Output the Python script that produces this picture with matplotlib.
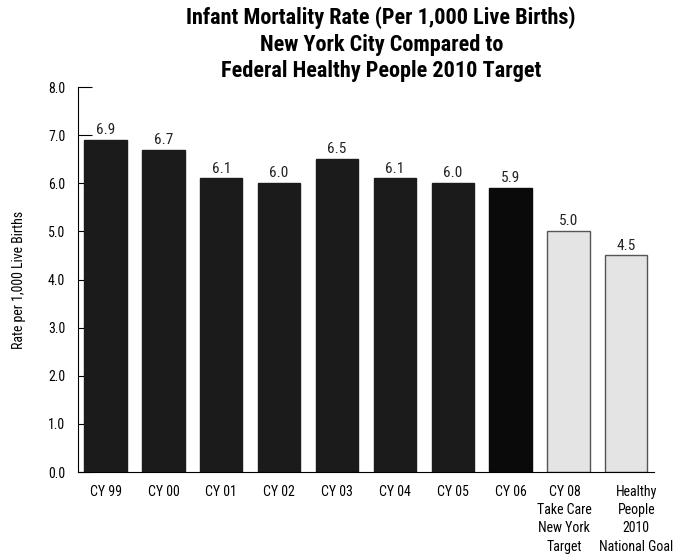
import matplotlib
matplotlib.use("Agg")
import matplotlib.pyplot as plt
import matplotlib.transforms as mtransforms
from matplotlib import font_manager

# Data
categories = ["CY 99", "CY 00", "CY 01", "CY 02", "CY 03", "CY 04", "CY 05", "CY 06",
              "CY 08\nTake Care\nNew York\nTarget", "Healthy\nPeople\n2010\nNational Goal"]
rates = [6.9, 6.7, 6.1, 6.0, 6.5, 6.1, 6.0, 5.9, 5.0, 4.5]
value_labels = ["6.9", "6.7", "6.1", "6.0", "6.5", "6.1", "6.0", "5.9", "5.0", "4.5"]
y_ticks = [0, 1, 2, 3, 4, 5, 6, 7, 8]

# pick a narrow sans, the reference uses an Arial Narrow look
names = {f.name for f in font_manager.fontManager.ttflist}
narrow = [n for n in ["Liberation Sans Narrow", "Roboto Condensed", "Archivo Narrow",
                      "Barlow Semi Condensed"] if n in names]
plt.rcParams["font.family"] = narrow[:1] + ["DejaVu Sans"]

bar_colors = ["#1b1b1b"] * 7 + ["#0a0a0a"] + ["#e4e4e4"] * 2
edge_colors = ["#1b1b1b"] * 7 + ["#0a0a0a"] + ["#555555"] * 2

fig = plt.figure(figsize=(6.82, 5.57), dpi=100)
ax = fig.add_axes([0.114, 0.1526, 0.845, 0.6912])

x = range(len(categories))
ax.bar(x, rates, width=0.73, color=bar_colors, edgecolor=edge_colors, linewidth=1.0, zorder=2)

for i, (v, lab) in enumerate(zip(rates, value_labels)):
    ax.text(i, v + 0.06, lab, ha="center", va="bottom", fontsize=11, color="#222222")

ax.set_ylim(0, 8)
ax.set_xlim(-0.48, len(categories) - 0.52)
ax.set_yticks(y_ticks)
ax.set_yticklabels([f"{t:.1f}" for t in y_ticks], fontsize=10)
ax.tick_params(axis="y", direction="in", length=10, width=0.8, pad=9)
ax.set_xticks(list(x))
ax.set_xticklabels(categories, fontsize=10, linespacing=1.4, va="top")
ax.tick_params(axis="x", length=0, pad=9)

# the two long labels sit a little off centre in the reference
ticklabels = ax.get_xticklabels()
ticklabels[-2].set_transform(ticklabels[-2].get_transform() +
                             mtransforms.ScaledTranslation(-4 / 100, 0, fig.dpi_scale_trans))
ticklabels[-1].set_transform(ticklabels[-1].get_transform() +
                             mtransforms.ScaledTranslation(10 / 100, 0, fig.dpi_scale_trans))

for s in ["top", "right"]:
    ax.spines[s].set_visible(False)
ax.spines["left"].set_linewidth(0.8)
ax.spines["bottom"].set_linewidth(0.8)

ax.set_ylabel("Rate per 1,000 Live Births", fontsize=10, labelpad=16)

fig.text(0.559, 0.988,
         "Infant Mortality Rate (Per 1,000 Live Births)\nNew York City Compared to\nFederal Healthy People 2010 Target",
         ha="center", va="top", fontsize=16, fontweight="bold", linespacing=1.27)

fig.savefig("out.png", dpi=100)
